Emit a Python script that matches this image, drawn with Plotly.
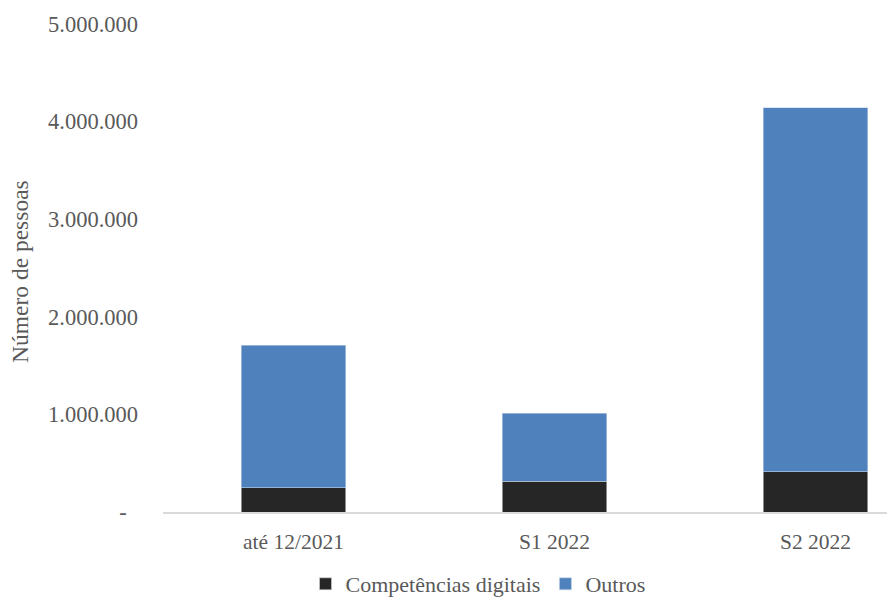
import plotly.graph_objects as go

# Periods and the number of people in each group
categorias = ["até 12/2021", "S1 2022", "S2 2022"]
competencias_digitais = [250000, 315000, 410000]
outros = [1460000, 695000, 3730000]

tick_vals = [0, 1000000, 2000000, 3000000, 4000000, 5000000]
tick_text = ["-\u00a0\u00a0", "1.000.000", "2.000.000", "3.000.000", "4.000.000", "5.000.000"]

FONT = "Liberation Serif, Times New Roman, serif"
GREY = "#595959"

fig = go.Figure()
fig.add_trace(go.Bar(
    name="Competências digitais", x=categorias, y=competencias_digitais,
    marker=dict(color="#262626", line=dict(color="#d0d0d0", width=0.6)),
))
fig.add_trace(go.Bar(
    name="Outros", x=categorias, y=outros,
    marker=dict(color="#4f81bd", line=dict(color="#c5d5ea", width=0.6)),
))

fig.update_layout(
    barmode="stack",
    bargap=0.6,
    width=887, height=598,
    margin=dict(l=163, r=0, t=24, b=86, autoexpand=False),
    paper_bgcolor="white", plot_bgcolor="white",
    font=dict(family=FONT, size=21, color=GREY),
    showlegend=True,
    legend=dict(
        orientation="h", xref="container", x=478 / 887, xanchor="center",
        yref="container", y=(598 - 584) / 598, yanchor="middle",
        font=dict(family=FONT, size=22, color=GREY), itemwidth=30,
        traceorder="normal", bgcolor="rgba(0,0,0,0)",
    ),
    xaxis=dict(
        range=[-0.5, 2.274], showline=True, linecolor="#d9d9d9", linewidth=1.5,
        showgrid=False, ticks="", ticklabelstandoff=9,
        tickfont=dict(size=21.5, color=GREY), automargin=False,
    ),
    yaxis=dict(
        range=[0, 5000000], tickvals=tick_vals, ticktext=tick_text,
        showgrid=False, zeroline=False, showline=False, ticks="",
        ticklabelstandoff=24, tickfont=dict(size=22.5, color=GREY), automargin=False,
    ),
    annotations=[dict(
        text="Número de pessoas", xref="paper", yref="paper",
        x=(20 - 163) / 724, y=(512 - 272) / 488, xanchor="center", yanchor="middle",
        textangle=-90, showarrow=False, font=dict(family=FONT, size=23.5, color=GREY),
    )],
)

fig.write_html("out.html")
